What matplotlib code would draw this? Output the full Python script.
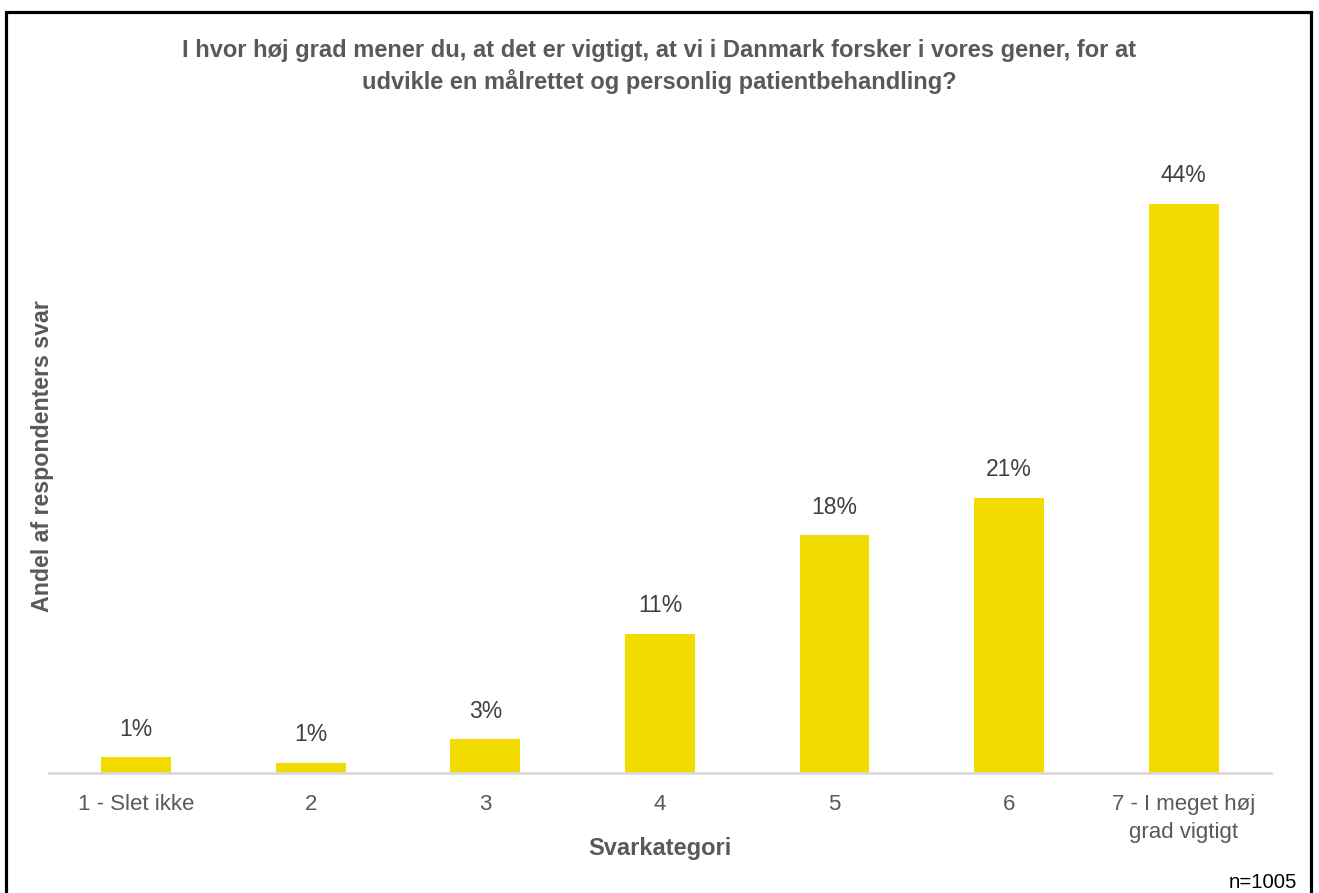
import matplotlib.pyplot as plt
from matplotlib.patches import Rectangle

categories = ["1 - Slet ikke", "2", "3", "4", "5", "6", "7 - I meget høj\ngrad vigtigt"]
shares = [1.2, 0.8, 2.6, 10.8, 18.4, 21.3, 44.1]
title = ("I hvor høj grad mener du, at det er vigtigt, at vi i Danmark forsker i vores gener, for at\n"
         "udvikle en målrettet og personlig patientbehandling?")

plt.rcParams['font.family'] = ['Liberation Sans', 'DejaVu Sans']

fig = plt.figure(figsize=(13.19, 8.93), dpi=100)
ax = fig.add_axes([0.0371, 0.1344, 0.9265, 0.694])

x = range(len(categories))
bars = ax.bar(x, shares, width=0.4, color='#f2dc00')
for b, v in zip(bars, shares):
	ax.text(b.get_x() + b.get_width()/2, v + 2.2, "%d%%" % round(v), ha='center', va='center',
		fontsize=16.5, color='#404040')

ax.set_xlim(-0.5, len(categories) - 0.5)
ax.set_ylim(0, 48)
ax.set_yticks([])
ax.set_xticks(list(x))
ax.set_xticklabels(categories, fontsize=16, color='#595959', linespacing=1.45, va='top')
ax.tick_params(axis='x', length=0, pad=15)
for s in ['top', 'right', 'left']:
	ax.spines[s].set_visible(False)
ax.spines['bottom'].set_color('#d9d9d9')
ax.spines['bottom'].set_linewidth(2)

fig.text(0.5, 0.925, title, ha='center', va='center', fontsize=17, fontweight='bold',
	color='#595959', linespacing=1.35)
fig.text(0.5, 0.05, "Svarkategori", ha='center', va='center', fontsize=17, fontweight='bold', color='#595959')
fig.text(0.032, 0.489, "Andel af respondenters svar", ha='center', va='center', rotation=90,
	fontsize=16.7, fontweight='bold', color='#595959')
fig.text(0.9833, 0.012, "n=1005", ha='right', va='center', fontsize=14.7, color='black')

# frame around the chart
fig.patches.append(Rectangle((0.0049, -0.05), 0.9894, 0.9866 + 0.05, transform=fig.transFigure,
	fill=False, edgecolor='black', linewidth=2.3))

fig.savefig('out.png', dpi=100)
